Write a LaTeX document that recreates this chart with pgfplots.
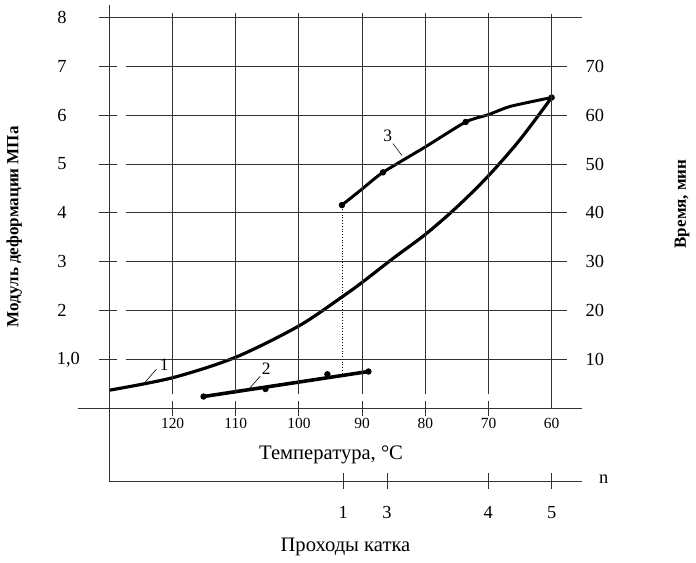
\documentclass[border=0pt]{standalone}
\usepackage{fontspec}
\setmainfont{Liberation Serif}
\usepackage{pgfplots}
\pgfplotsset{compat=1.18}
\newcommand\fs[1]{\fontsize{#1}{#1}\selectfont}
\begin{document}
\begin{tikzpicture}
\begin{axis}[
  at={(55.3pt,-206.35pt)}, anchor=south west,
  scale only axis, width=223.35pt, height=197.6pt,
  xmin=60, xmax=130, ymin=0, ymax=8, x dir=reverse,
  hide axis, clip=false,
]
% curve 1
\addplot[black, line width=1.6pt, smooth, tension=0.5] coordinates {
 (130,0.375) (120,0.63) (110,1.05) (100,1.69) (93.1,2.29) (90,2.58)
 (85,3.08) (80,3.56) (75,4.12) (70,4.76) (65,5.5) (60,6.36)};
% curve 2
\addplot[black, line width=1.8pt] coordinates {(115.1,0.245) (89,0.757)};
\addplot[only marks, mark=*, mark size=1.4pt, black] coordinates {
 (115.1,0.245) (105.3,0.40) (95.5,0.70) (89,0.757)};
% curve 3 (time, min)
\addplot[black, line width=1.5pt, smooth, tension=0.4, y filter/.expression={y/10}] coordinates {
 (93.2,41.6) (90,44.9) (86.7,48.3) (80,53.5) (73.6,58.6) (70,60.1) (66.5,61.8) (60,63.6)};
\addplot[only marks, mark=*, mark size=1.4pt, black, y filter/.expression={y/10}] coordinates {
 (93.2,41.6) (86.7,48.3) (73.6,58.6) (60,63.6)};
% dotted drop line
\addplot[black, densely dotted, line width=0.4pt] coordinates {(93.1,0.66) (93.1,4.16)};
% leader lines
\addplot[black, line width=0.3pt] coordinates {(122.57,0.804) (124.34,0.540)};
\addplot[black, line width=0.3pt] coordinates {(106.12,0.662) (107.89,0.405)};
\addplot[black, line width=0.3pt] coordinates {(85.12,5.419) (83.71,5.176)};
\end{axis}
\begin{scope}[x=0.5pt,y=-0.5pt]
\path (0,0) rectangle (696,562);
\tikzset{grid/.style={black!80, line width=0.5pt}}
% horizontal gridlines
\foreach \yy in {363.3,313.9,264.5,215.1,165.7,116.3,66.9} {
  \draw[grid] (100,\yy) -- (118,\yy);
  \draw[grid] (127,\yy) -- (572.7,\yy);
}
\draw[grid] (100,17.3) -- (588,17.3);
\draw[grid] (78.3,412.7) -- (588,412.7);
% left axis
\draw[grid] (110.6,5) -- (110.6,486);
% vertical gridlines
\foreach \xx in {174.4,238.2,302.0,365.8,429.7,493.5} {
  \draw[grid] (\xx,13) -- (\xx,398);
  \draw[grid] (\xx,405) -- (\xx,420);
}
\draw[grid] (557.3,14) -- (557.3,413);
% n axis
\draw[grid] (110.6,486) -- (588,486);
\foreach \xx in {346.7,391,493.3,557.3} {
  \draw[grid] (\xx,478) -- (\xx,494);
}
% left tick labels
\foreach \yy/\t in {17.3/8,66.9/7,116.3/6,165.7/5,215.1/4,264.5/3,313.9/2} {
  \node[font=\fs{9.3}] at (62.5,\yy) {\t};
}
\node[font=\fs{9.3}] at (69,363.3) {1,0};
% right tick labels
\foreach \yy/\t in {66.9/70,116.3/60,165.7/50,215.1/40,264.5/30,313.9/20,363.3/10} {
  \node[font=\fs{9.3}] at (601,\yy) {\t};
}
% temperature tick labels
\foreach \xx/\t in {174.4/120,238.2/110,302.0/100,365.8/90,429.7/80,493.5/70,557.3/60} {
  \node[font=\fs{7.8}] at (\xx,427.5) {\t};
}
% n tick labels
\foreach \xx/\t in {346.7/1,391/3,493.3/4,557.3/5} {
  \node[font=\fs{9.3}] at (\xx,518) {\t};
}
\node[font=\fs{9.3}] at (610,484) {n};
% axis titles
\node[font=\fs{10.4}] at (334.5,460) {Температура, °C};
\node[font=\fs{10.4}] at (349,553) {Проходы катка};
\node[font=\bfseries\fs{8.6}, rotate=90] at (14.5,229) {Модуль деформации МПа};
\node[font=\bfseries\fs{8.6}, rotate=90] at (689,206) {Время, мин};
% curve labels
\node[font=\fs{8.8}] at (166,368) {1};
\node[font=\fs{8.8}] at (269,373) {2};
\node[font=\fs{8.8}] at (391.7,137.3) {3};
\end{scope}
\end{tikzpicture}
\end{document}
